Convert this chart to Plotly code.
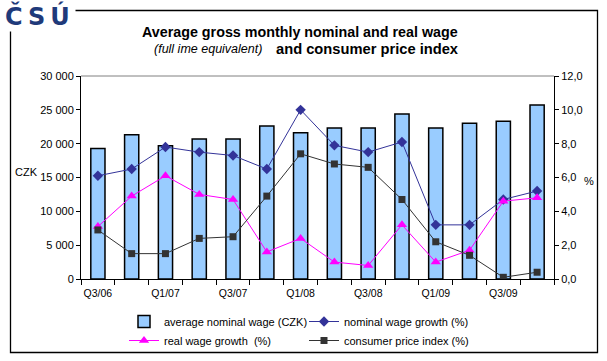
import plotly.graph_objects as go

categories = ["Q3/06", "Q4/06", "Q1/07", "Q2/07", "Q3/07", "Q4/07", "Q1/08",
              "Q2/08", "Q3/08", "Q4/08", "Q1/09", "Q2/09", "Q3/09", "Q4/09"]
tick_labels = ["Q3/06", "", "Q1/07", "", "Q3/07", "", "Q1/08",
               "", "Q3/08", "", "Q1/09", "", "Q3/09", ""]
avg_wage = [19300, 21300, 19700, 20700, 20700, 22600, 21600,
            22300, 22300, 24400, 22300, 23000, 23300, 25700]
nominal_growth = [6.1, 6.5, 7.8, 7.5, 7.3, 6.5, 10.0,
                  7.9, 7.5, 8.1, 3.2, 3.2, 4.7, 5.2]
real_growth = [3.1, 4.9, 6.1, 5.0, 4.7, 1.6, 2.4,
               1.0, 0.8, 3.2, 1.0, 1.7, 4.6, 4.8]
cpi = [2.9, 1.5, 1.5, 2.4, 2.5, 4.9, 7.4,
       6.8, 6.6, 4.7, 2.2, 1.4, 0.1, 0.4]

FONT = "Liberation Sans, Arial, sans-serif"

fig = go.Figure()
fig.add_trace(go.Bar(
    x=categories, y=avg_wage, name="average nominal wage (CZK)",
    marker=dict(color="#99CCFF", line=dict(color="black", width=1.5)),
    width=0.42, yaxis="y", legend="legend"))
fig.add_trace(go.Scatter(
    x=categories, y=nominal_growth, name="nominal wage growth (%)", yaxis="y2",
    mode="lines+markers", line=dict(color="#333399", width=1),
    marker=dict(symbol="diamond", size=8, color="#333399"), legend="legend"))
fig.add_trace(go.Scatter(
    x=categories, y=real_growth, name="real wage growth  (%)", yaxis="y2",
    mode="lines+markers", line=dict(color="#FF00FF", width=1),
    marker=dict(symbol="triangle-up", size=9, color="#FF00FF"), legend="legend2"))
fig.add_trace(go.Scatter(
    x=categories, y=cpi, name="consumer price index (%)", yaxis="y2",
    mode="lines+markers", line=dict(color="#333333", width=1),
    marker=dict(symbol="square", size=7, color="#333333"), legend="legend2"))

# plot area pixel geometry
L, R, T, B = 81, 554, 76, 279
W, H = R - L, B - T
def px(x):
    return (x - L) / W
def py(y):
    return (B - y) / H

legend_common = dict(
    orientation="h", xanchor="left", yanchor="top",
    entrywidth=135, entrywidthmode="pixels", font=dict(size=11),
    bgcolor="rgba(0,0,0,0)", tracegroupgap=0, itemwidth=30)

fig.update_layout(
    width=607, height=361,
    margin=dict(l=L, r=607 - R, t=T, b=361 - B, autoexpand=False),
    paper_bgcolor="white", plot_bgcolor="white",
    font=dict(family=FONT, size=11, color="black"),
    separators=", ",
    showlegend=True,
    xaxis=dict(
        type="category", tickmode="array", tickvals=categories, ticktext=tick_labels,
        tickson="boundaries", ticks="outside", ticklen=5, tickcolor="black",
        tickangle=0, automargin=False, ticklabelstandoff=4,
        showline=True, linecolor="black", linewidth=1, showgrid=False,
        tickfont=dict(size=10.5), range=[-0.5, 13.5]),
    yaxis=dict(
        range=[0, 30000], tickvals=[0, 5000, 10000, 15000, 20000, 25000, 30000],
        tickformat=",.0f", ticks="outside", ticklen=4, tickcolor="black",
        automargin=False,
        showline=True, linecolor="black", linewidth=1, showgrid=False,
        zeroline=False, tickfont=dict(size=11)),
    yaxis2=dict(
        overlaying="y", side="right", range=[0, 12],
        tickvals=[0, 2, 4, 6, 8, 10, 12], tickformat=".1f",
        ticks="outside", ticklen=4, tickcolor="black", automargin=False,
        showline=True, linecolor="black", linewidth=1, showgrid=False,
        zeroline=False, tickfont=dict(size=11)),
    legend=dict(x=px(124), y=py(307), **legend_common),
    legend2=dict(x=px(124), y=py(326), **legend_common),
)

shapes = [
    # outer frame
    dict(type="rect", xref="paper", yref="paper",
         x0=px(10.5), x1=px(597.5), y0=py(352.5), y1=py(10.5),
         line=dict(color="black", width=1.3), fillcolor="rgba(0,0,0,0)", layer="above"),
    # grey top border of plot area
    dict(type="line", xref="paper", yref="paper", x0=0, x1=1, y0=1, y1=1,
         line=dict(color="#808080", width=1)),
]
fig.update_layout(shapes=shapes)

annotations = [
    dict(text="<b><span style='letter-spacing:5px'>ČSÚ</span></b>", xref="paper", yref="paper",
         x=px(4), y=py(16), xanchor="left", yanchor="middle", showarrow=False,
         font=dict(family="DejaVu Sans, sans-serif", size=24, color="#1F3A7A"),
         bgcolor="white", borderpad=0),
    dict(text="<b>Average gross monthly nominal and real wage</b>", xref="paper", yref="paper",
         x=px(300), y=py(32), xanchor="center", yanchor="middle", showarrow=False,
         font=dict(family=FONT, size=14.3)),
    dict(text="<i>(full ime equivalent)</i>", xref="paper", yref="paper",
         x=px(152), y=py(49), xanchor="left", yanchor="middle", showarrow=False,
         font=dict(family=FONT, size=12.5)),
    dict(text="<b>and consumer price index</b>", xref="paper", yref="paper",
         x=px(274), y=py(49), xanchor="left", yanchor="middle", showarrow=False,
         font=dict(family=FONT, size=14.7)),
    dict(text="CZK", xref="paper", yref="paper", x=px(26), y=py(172),
         xanchor="center", yanchor="middle", showarrow=False, font=dict(size=11)),
    dict(text="%", xref="paper", yref="paper", x=px(589), y=py(181),
         xanchor="center", yanchor="middle", showarrow=False, font=dict(size=11)),
]
fig.update_layout(annotations=annotations)

fig.write_html("out.html", post_script="document.body.style.margin='0';",
               config={"displayModeBar": False})
